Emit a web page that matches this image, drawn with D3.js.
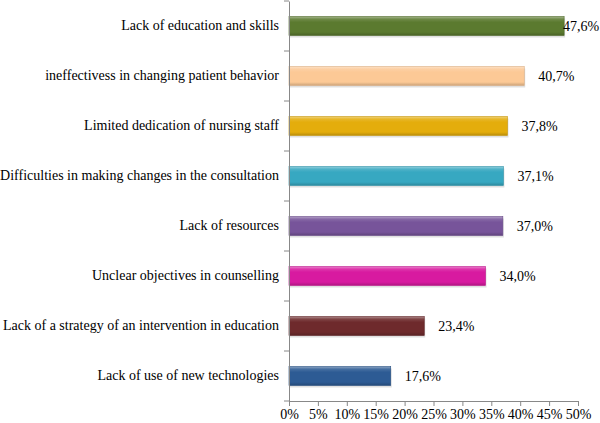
<!DOCTYPE html>
<html><head><meta charset="utf-8">
<script src="https://cdn.jsdelivr.net/npm/d3@7"></script>
<style>html,body{margin:0;padding:0;background:#fff;}svg{display:block;}
svg text{font-family:"Liberation Serif","DejaVu Serif",serif;}</style>
</head><body>
<script>
const categories = [
  "Lack of education and skills",
  "ineffectivess in changing patient behavior",
  "Limited dedication of nursing staff",
  "Difficulties in making changes in the consultation",
  "Lack of resources",
  "Unclear objectives in counselling",
  "Lack of a strategy of an intervention in education",
  "Lack of use of new technologies"
];
const values = [47.6, 40.7, 37.8, 37.1, 37.0, 34.0, 23.4, 17.6];
const valueLabels = ["47,6%", "40,7%", "37,8%", "37,1%", "37,0%", "34,0%", "23,4%", "17,6%"];
const colors = ["#5b7a2f", "#fcc996", "#e4ad0c", "#37a8c1", "#77549a", "#d81aa0", "#6e2a2c", "#2d5b94"];
const tickValues = [0, 5, 10, 15, 20, 25, 30, 35, 40, 45, 50];

const W = 600, H = 423;
const svg = d3.select("body").append("svg").attr("width", W).attr("height", H);
const x = d3.scaleLinear().domain([0, 50]).range([289, 578]);
const y = d3.scaleBand().domain(categories).range([1, 401]).paddingInner(0.62).paddingOuter(0.31);

const defs = svg.append("defs");
colors.forEach((c, i) => {
  const g = defs.append("linearGradient").attr("id", "g" + i).attr("x1", 0).attr("y1", 0).attr("x2", 0).attr("y2", 1);
  const base = d3.color(c);
  g.append("stop").attr("offset", "0%").attr("stop-color", d3.interpolateRgb(c, "#fff")(0.45));
  g.append("stop").attr("offset", "14%").attr("stop-color", d3.interpolateRgb(c, "#fff")(0.12));
  g.append("stop").attr("offset", "30%").attr("stop-color", c);
  g.append("stop").attr("offset", "82%").attr("stop-color", c);
  g.append("stop").attr("offset", "100%").attr("stop-color", base.darker(0.6));
});

const FS = 14;

// shadows
svg.append("g").selectAll("rect").data(values).join("rect")
  .attr("x", x(0) + 1).attr("y", (d, i) => y(categories[i]) + 2)
  .attr("width", d => x(d) - x(0)).attr("height", y.bandwidth())
  .attr("fill", "#000").attr("opacity", 0.12);

svg.append("g").selectAll("rect").data(values).join("rect")
  .attr("x", x(0)).attr("y", (d, i) => y(categories[i]))
  .attr("width", d => x(d) - x(0)).attr("height", y.bandwidth())
  .attr("fill", (d, i) => "url(#g" + i + ")")
  .attr("stroke", (d, i) => d3.color(colors[i]).darker(0.4)).attr("stroke-width", 0.6);

// axes
const yAxis = d3.axisLeft(y).tickSize(0).tickPadding(10);
const gy = svg.append("g").attr("transform", `translate(${x(0)},0)`).call(yAxis);
gy.attr("font-family", null).attr("font-size", null);
gy.select(".domain").attr("stroke", "#888");
gy.selectAll("text").style("font-size", FS + "px").attr("fill", "#000");
// category separator ticks
const seps = d3.range(categories.length + 1).map(i => y.range()[0] + i * y.step());
svg.append("g").selectAll("line").data(seps).join("line")
  .attr("x1", x(0) - 5).attr("x2", x(0)).attr("y1", d => d).attr("y2", d => d)
  .attr("stroke", "#888");

const xAxis = d3.axisBottom(x).tickValues(tickValues).tickFormat(d => d + "%").tickSize(5).tickPadding(3);
const gx = svg.append("g").attr("transform", `translate(0,${y.range()[1]})`).call(xAxis);
gx.attr("font-family", null).attr("font-size", null);
gx.select(".domain").attr("stroke", "#888");
gx.selectAll(".tick line").attr("stroke", "#888");
gx.selectAll("text").style("font-size", FS + "px").attr("fill", "#000");

// value labels
svg.append("g").selectAll("text").data(values).join("text")
  .attr("x", d => Math.min(x(d) + 14, 563))
  .attr("y", (d, i) => y(categories[i]) + y.bandwidth() / 2)
  .attr("dy", "0.35em")
  .style("font-size", FS + "px").attr("fill", "#000")
  .text((d, i) => valueLabels[i]);
</script>
</body></html>
